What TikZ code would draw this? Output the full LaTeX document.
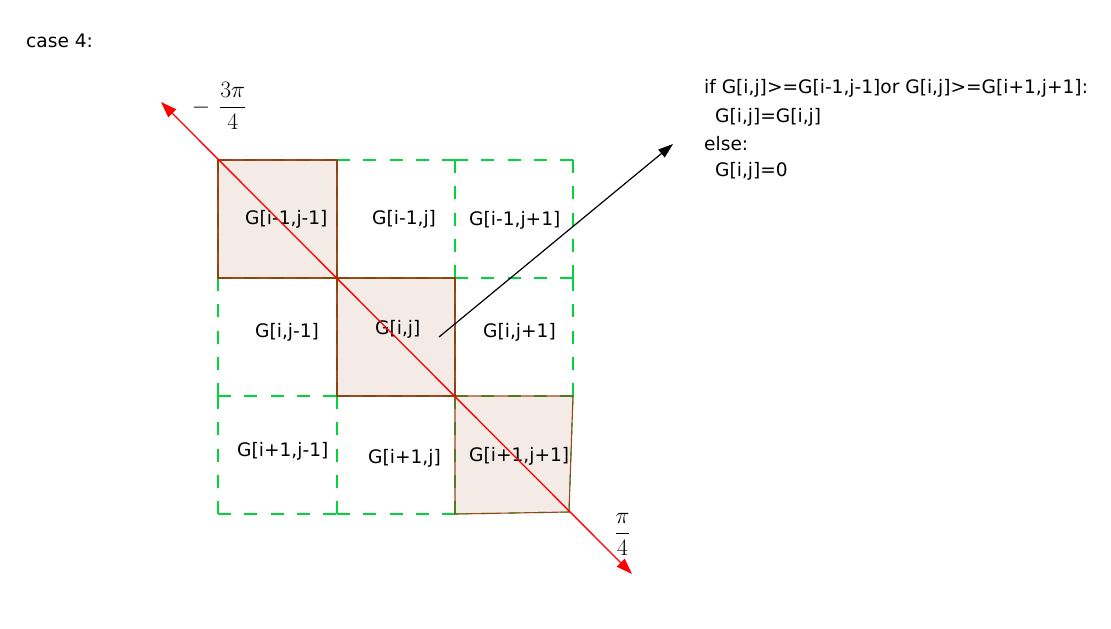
\RequirePackage{fix-cm}
\documentclass[tikz,border=0pt]{standalone}
\usepackage[no-math]{fontspec}
\setmainfont{DejaVu Sans}
\usetikzlibrary{arrows.meta}
\definecolor{gridgreen}{RGB}{0,214,60}
\definecolor{cellfill}{RGB}{244,234,230}
\definecolor{cellborder}{RGB}{150,55,10}
\definecolor{axisred}{RGB}{255,0,0}
\begin{document}
\begin{tikzpicture}[x=1pt,y=-1pt,
  lbl/.style={anchor=base west, inner sep=0pt, font=\fontsize{18.6}{22}\selectfont},
  mathlbl/.style={anchor=center, inner sep=0pt, font=\fontsize{23.5}{28}\selectfont},
  gridline/.style={draw=gridgreen, line width=1.1pt, dash pattern=on 13pt off 13.25pt},
  shadecell/.style={fill=cellfill},
  celledge/.style={draw=cellborder, line width=1.1pt, opacity=0.9},
  redaxis/.style={draw=axisred, line width=1.3pt, {Triangle[length=16pt,width=11pt]}-{Triangle[length=16pt,width=11pt]}},
  blackarrow/.style={draw=black, line width=1.2pt, -{Triangle[length=15pt,width=10pt]}}
]
\useasboundingbox (0,0) rectangle (1111,629);
\fill[white] (0,0) rectangle (1111,629);

% grid vertices
\coordinate (v00) at (218,160); \coordinate (v10) at (337,160); \coordinate (v20) at (455,160); \coordinate (v30) at (573,160);
\coordinate (v01) at (218,278); \coordinate (v11) at (337,278); \coordinate (v21) at (455,278); \coordinate (v31) at (573,278);
\coordinate (v02) at (218,396); \coordinate (v12) at (337,396); \coordinate (v22) at (455,396); \coordinate (v32) at (573,396);
\coordinate (v03) at (218,514); \coordinate (v13) at (337,514); \coordinate (v23) at (455,514); \coordinate (v33) at (569,512);

% shaded cells
\fill[shadecell] (v00) rectangle (v11);
\fill[shadecell] (v11) rectangle (v22);
\fill[shadecell] (v22) -- (v32) -- (v33) -- (v23) -- cycle;

% green dashed grid, edge by edge
\foreach \a/\b in {v00/v10,v10/v20,v20/v30,
                   v01/v11,v11/v21,v21/v31,
                   v02/v12,v12/v22,v22/v32,
                   v03/v13,v13/v23,v23/v33,
                   v00/v01,v01/v02,v02/v03,
                   v10/v11,v11/v12,v12/v13,
                   v20/v21,v21/v22,v22/v23,
                   v30/v31,v31/v32,v32/v33}
  \draw[gridline] (\a) -- (\b);

% brown borders of the shaded cells
\draw[celledge] (v00) rectangle (v11);
\draw[celledge] (v11) rectangle (v22);
\draw[celledge] (v22) -- (v32) -- (v33) -- (v23) -- cycle;

% cell labels
\node[lbl] (g11) at (245,224) {G[i-1,j-1]};
\node[lbl] (g12) at (372,224) {G[i-1,j]};
\node[lbl] (g13) at (469,225) {G[i-1,j+1]};
\node[lbl] (g21) at (255,337) {G[i,j-1]};
\node[lbl] (g22) at (375,334) {G[i,j]};
\node[lbl] (g23) at (483,337) {G[i,j+1]};
\node[lbl] (g31) at (237,456) {G[i+1,j-1]};
\node[lbl] (g32) at (368,463) {G[i+1,j]};
\node[lbl] (g33) at (469,461) {G[i+1,j+1]};

% red diagonal axis
\coordinate (ra) at (161,102);
\coordinate (rb) at (632,574);
\draw[redaxis] (ra) -- (rb);

% angle labels
\node[mathlbl] (ang1) at (219,106) {$\displaystyle -\mkern7mu\frac{3\pi}{4}$};
\node[mathlbl] (ang2) at (622.5,534) {$\displaystyle \frac{\pi}{4}$};

% black arrow
\coordinate (ba) at (439,337);
\coordinate (bb) at (673,144);
\draw[blackarrow] (ba) -- (bb);

% rule text
\node[lbl] (t1) at (704,93) {if G[i,j]>=G[i-1,j-1]or G[i,j]>=G[i+1,j+1]:};
\node[lbl] (t2) at (715,122) {G[i,j]=G[i,j]};
\node[lbl] (t3) at (704,150) {else:};
\node[lbl] (t4) at (715,176) {G[i,j]=0};

\node[lbl] (case) at (26,47) {case 4:};
\end{tikzpicture}
\end{document}
